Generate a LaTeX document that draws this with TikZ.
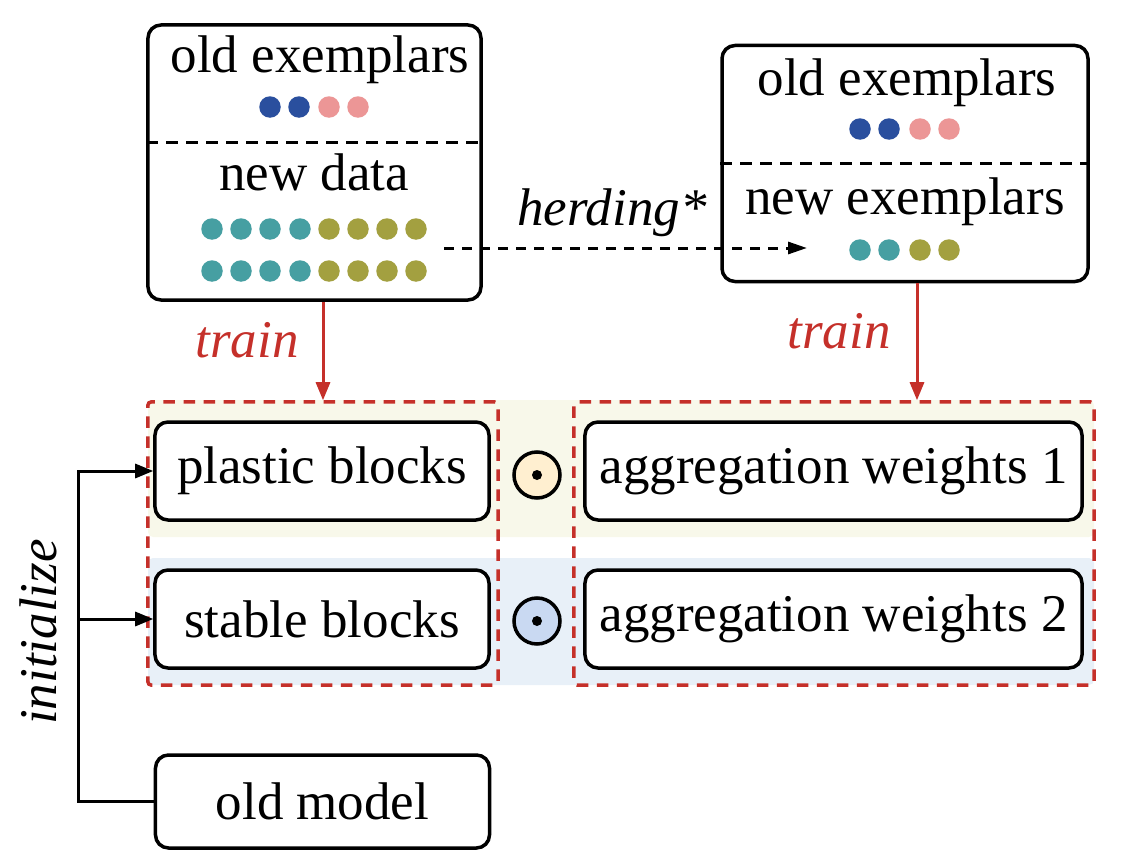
\documentclass[tikz,border=0pt]{standalone}
\usepackage{fontspec}
\setmainfont{Liberation Serif}
\usepackage{xcolor}
\usetikzlibrary{arrows.meta}

\definecolor{exblue}{HTML}{2A4F9E}
\definecolor{expink}{HTML}{EC9696}
\definecolor{exteal}{HTML}{469FA2}
\definecolor{exolive}{HTML}{A3A040}
\definecolor{trainred}{HTML}{C5302A}
\definecolor{bandyellow}{HTML}{F8F8EA}
\definecolor{bandblue}{HTML}{E8F0F8}
\definecolor{odotyellow}{HTML}{FFEFD0}
\definecolor{odotblue}{HTML}{C9D9F2}

\begin{document}
\begin{tikzpicture}[x=0.2pt,y=-0.2pt,
    every node/.style={font=\fontsize{10.6}{12.7}\selectfont},
    box/.style={draw,fill=white,line width=0.7pt,rounded corners=2.6pt,inner sep=0pt},
    redbox/.style={draw=trainred,line width=0.7pt,dash pattern=on 2.3pt off 1.7pt,rounded corners=0.6pt},
    divider/.style={line width=0.6pt,dash pattern=on 2.3pt off 1.7pt},
    odot/.style={draw,circle,line width=0.7pt,minimum size=9.2pt,inner sep=0pt},
    redarrow/.style={draw=trainred,line width=0.6pt,-{Triangle[length=3.6pt,width=2.8pt]}},
    blackarrow/.style={line width=0.6pt,-{Triangle[length=3.6pt,width=2.8pt]}}]
    \useasboundingbox (0,0) rectangle (1122,866);

    % background bands
    \fill[bandyellow,rounded corners=1pt] (148,400) rectangle (1094,537);
    \fill[bandblue,rounded corners=1pt] (148,558) rectangle (1094,685);

    % data boxes
    \node[box,minimum width=66.6pt,minimum height=55pt] (data) at (314.5,162.5) {};
    \node[box,minimum width=73.2pt,minimum height=47.2pt] (memory) at (905,163.5) {};
    \draw[divider] (data.west |- 0,142) -- (data.east |- 0,142);
    \draw[divider] (memory.west |- 0,163) -- (memory.east |- 0,163);
    \node[anchor=base] (dataold) at (320,73) {old exemplars};
    \node[anchor=base] (datanew) at (314,190) {new data};
    \node[anchor=base] (memold) at (907,95) {old exemplars};
    \node[anchor=base] (memnew) at (905,215) {new exemplars};
    \foreach \x/\c in {270/exblue,299/exblue,329/expink,358/expink}
        \fill[\c] (\x,107) circle (2.15pt);
    \foreach \y in {229,271} {
        \foreach \x in {212,241,270,300}
            \fill[exteal] (\x,\y) circle (2.15pt);
        \foreach \x in {329,358,387,416}
            \fill[exolive] (\x,\y) circle (2.15pt);
    }
    \foreach \x/\c in {860/exblue,889/exblue,920/expink,949/expink}
        \fill[\c] (\x,129) circle (2.15pt);
    \foreach \x/\c in {860/exteal,889/exteal,920/exolive,949/exolive}
        \fill[\c] (\x,250) circle (2.15pt);

    % herding
    \coordinate (hstart) at (444,248);
    \coordinate (hend) at (807,248);
    \draw[line width=0.6pt,dash pattern=on 2pt off 1.6pt,-{Triangle[length=3.8pt,width=2.4pt]}] (hstart) -- (hend);
    \node[anchor=base,font=\fontsize{10.6}{12.7}\selectfont\itshape] (herd) at (612,225) {herding*};

    % trainable groups
    \node[redbox,minimum width=70pt,minimum height=56.6pt] (groupL) at (323,543.5) {};
    \node[redbox,minimum width=104pt,minimum height=56.6pt] (groupR) at (834,543.5) {};
    \node[box,minimum width=66.8pt,minimum height=19.6pt] (plastic) at (322,471) {plastic blocks};
    \node[box,minimum width=66.8pt,minimum height=19.6pt] (stable) at (322,619) {stable blocks};
    \node[box,minimum width=99.4pt,minimum height=19.6pt] (agg1) at (833.5,471) {aggregation weights 1};
    \node[box,minimum width=99.4pt,minimum height=19.6pt] (agg2) at (833.5,619) {aggregation weights 2};
    \node[odot,fill=odotyellow] (prod1) at (537,475) {};
    \node[odot,fill=odotblue] (prod2) at (537,621) {};
    \fill (prod1) circle (1pt);
    \fill (prod2) circle (1pt);

    % train arrows
    \draw[redarrow] (data.south -| groupL.north) -- (groupL.north);
    \draw[redarrow] (memory.south -| 917,0) -- (917,0 |- groupR.north);
    \node[anchor=base,text=trainred,font=\fontsize{10.6}{12.7}\selectfont\itshape] (trainL) at (247,357) {train};
    \node[anchor=base,text=trainred,font=\fontsize{10.6}{12.7}\selectfont\itshape] (trainR) at (839,348) {train};

    % old model
    \node[box,minimum width=66.8pt,minimum height=18.6pt] (old) at (322.5,801.5) {old model};
    \coordinate (bend) at (78,471);
    \draw[blackarrow] (old.west) -| (bend) -- (plastic.west);
    \draw[blackarrow] (bend |- stable.west) -- (stable.west);
    \node[rotate=90,font=\fontsize{10.6}{12.7}\selectfont\itshape] (init) at (38,632) {initialize};
\end{tikzpicture}
\end{document}
